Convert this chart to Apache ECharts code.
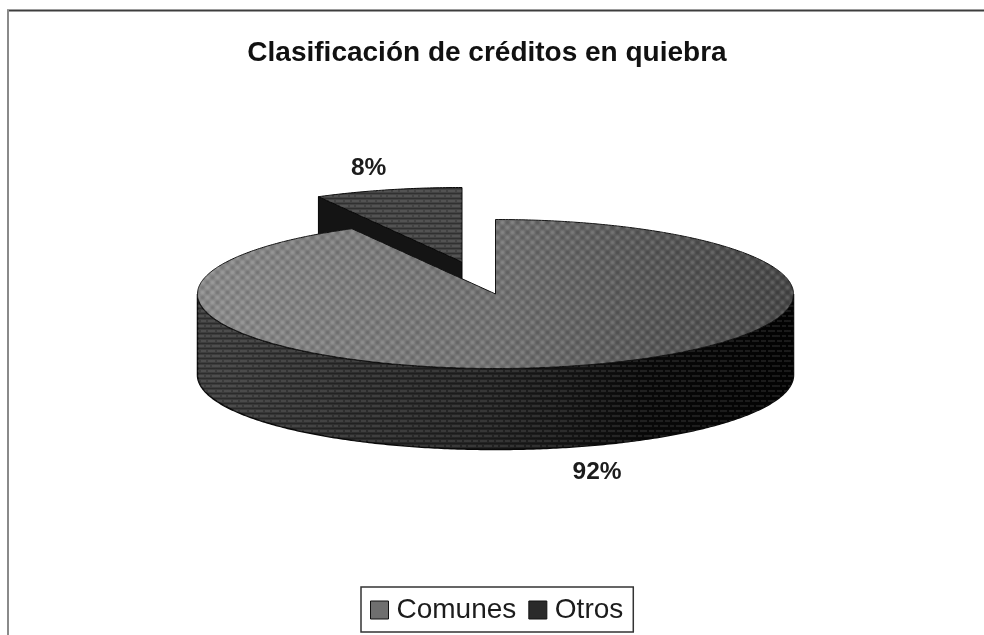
<!DOCTYPE html>
<html>
<head>
<meta charset="utf-8">
<style>html,body{margin:0;padding:0;background:#fff}#c{width:984px;height:635px}</style>
<script src="https://cdn.jsdelivr.net/npm/echarts@6/dist/echarts.min.js"></script>
</head>
<body>
<div id="c"></div>
<script>
var categories = ['Comunes', 'Otros'];
var comunesValues = [92];
var otrosValues = [8];
var titleText = 'Clasificación de créditos en quiebra';

var FONT = '"Liberation Sans", Arial, sans-serif';
var total = comunesValues[0] + otrosValues[0];
var RX = 298, RY = 74.5, DEPTH = 81;

function tile(w, h, draw) {
  var c = document.createElement('canvas');
  c.width = w; c.height = h;
  draw(c.getContext('2d'));
  return { image: c, repeat: 'repeat' };
}
var weave = tile(10, 10, function (g) {
  g.filter = 'blur(0.8px)';
  function dot(x, y, r, col) {
    [-10, 0, 10].forEach(function (ox) { [-10, 0, 10].forEach(function (oy) {
      g.fillStyle = col; g.beginPath(); g.arc(x + ox, y + oy, r, 0, 7); g.fill();
    }); });
  }
  dot(2.5, 2.5, 2, 'rgba(255,255,255,0.20)');
  dot(7.5, 7.5, 2, 'rgba(255,255,255,0.20)');
  dot(7.5, 2.5, 1.7, 'rgba(0,0,0,0.20)');
  dot(2.5, 7.5, 1.7, 'rgba(0,0,0,0.20)');
});
var bricks = tile(16, 10, function (g) {
  g.filter = 'blur(0.4px)';
  g.fillStyle = 'rgba(255,255,255,0.09)';
  g.fillRect(0, 0, 7, 2); g.fillRect(9, 0, 5, 2);
  g.fillRect(4, 5, 8, 2); g.fillRect(14, 5, 2, 2); g.fillRect(0, 5, 2, 2);
  g.fillStyle = 'rgba(0,0,0,0.28)';
  g.fillRect(0, 3, 16, 1); g.fillRect(0, 8, 16, 1);
});

function hGrad(stops) {
  return new echarts.graphic.LinearGradient(198, 0, 795, 0, stops.map(function (c, i) {
    return { offset: i / (stops.length - 1), color: c };
  }), true);
}
function rim(cx, cy, a) {
  return [cx + RX * Math.sin(a), cy - RY * Math.cos(a)];
}
function arc(cx, cy, a0, a1, dy) {
  var pts = [], n = Math.max(2, Math.ceil(Math.abs(a1 - a0) * 90));
  for (var i = 0; i <= n; i++) {
    pts.push(rim(cx, cy + (dy || 0), a0 + (a1 - a0) * i / n));
  }
  return pts;
}
function face(points, fill, overlay, stroke, width) {
  var out = [{ type: 'polygon', shape: { points: points }, style: { fill: fill, stroke: stroke || null, lineWidth: width || 0 } }];
  if (overlay) out.push({ type: 'polygon', shape: { points: points }, style: { fill: overlay } });
  return out;
}
function label(text, x, y) {
  return { type: 'text', style: { text: text, x: x, y: y, align: 'center', verticalAlign: 'middle',
    font: 'bold 24.5px ' + FONT, fill: '#1c1c1c' } };
}

function renderComunes(params, api) {
  var value = api.value(0);
  var cx = 495.5, cy = 294;
  var sweep = value / total * Math.PI * 2;
  var front = arc(cx, cy, Math.PI / 2, Math.PI * 1.5).concat(arc(cx, cy, Math.PI * 1.5, Math.PI / 2, DEPTH));
  var top = [[cx, cy]].concat(arc(cx, cy, 0, sweep));
  var mid = sweep / 2;
  return { type: 'group', children: [].concat(
    face(front, hGrad(['#3e3e3e', '#2e2e2e', '#222222', '#0a0a0a', '#030303']), bricks, '#0a0a0a', 1.5),
    face(top, hGrad(['#8a8a8a', '#7c7c7c', '#707070', '#565656', '#444444']), weave, '#111111', 1),
    [label(Math.round(value / total * 100) + '%', cx + RX * 1.37 * Math.sin(mid), cy + DEPTH - RY * 1.35 * Math.cos(mid))]
  ) };
}
function renderOtros(params, api) {
  var value = api.value(0);
  var cx = 462, cy = 262;
  var sweep = value / total * Math.PI * 2;
  var end = rim(cx, cy, -sweep);
  var side = [end, [cx, cy], [cx, cy + DEPTH], [end[0], end[1] + DEPTH]];
  var top = [[cx, cy]].concat(arc(cx, cy, 0, -sweep));
  var mid = -sweep / 2;
  return { type: 'group', children: [].concat(
    face(side, '#141414', null, '#050505', 1),
    face(top, '#434343', bricks, '#0a0a0a', 1),
    [label(Math.round(value / total * 100) + '%', cx + RX * 1.26 * Math.sin(mid), cy - RY * 1.3 * Math.cos(mid))]
  ) };
}

var chart = echarts.init(document.getElementById('c'), null, { renderer: 'canvas' });
chart.setOption({
  animation: false,
  backgroundColor: '#ffffff',
  title: {
    text: titleText, left: 487, top: 39, textAlign: 'center', padding: 0,
    textStyle: { fontFamily: FONT, fontWeight: 'bold', fontSize: 28, color: '#111111' }
  },
  legend: {
    data: categories, left: 361, top: 587, orient: 'horizontal', icon: 'rect',
    padding: [9, 10, 8, 9], itemGap: 12, itemWidth: 18, itemHeight: 18,
    borderColor: '#333333', borderWidth: 1.5, backgroundColor: '#ffffff', selectedMode: false,
    itemStyle: { borderColor: '#111111', borderWidth: 1 },
    textStyle: { fontFamily: FONT, fontSize: 28, color: '#1c1c1c', padding: [0, 0, 0, 3] }
  },
  graphic: [
    { type: 'line', shape: { x1: 7, y1: 10.5, x2: 984, y2: 10.5 }, style: { stroke: '#3d3d3d', lineWidth: 2 } },
    { type: 'line', shape: { x1: 8, y1: 10, x2: 8, y2: 635 }, style: { stroke: '#8a8a8a', lineWidth: 2 } }
  ],
  series: [
    { type: 'custom', name: 'Otros', coordinateSystem: 'none', renderItem: renderOtros,
      data: otrosValues.map(function (v) { return [v]; }), itemStyle: { color: '#2a2a2a' }, silent: true },
    { type: 'custom', name: 'Comunes', coordinateSystem: 'none', renderItem: renderComunes,
      data: comunesValues.map(function (v) { return [v]; }), itemStyle: { color: '#6f6f6f' }, silent: true }
  ]
});
</script>
</body>
</html>
